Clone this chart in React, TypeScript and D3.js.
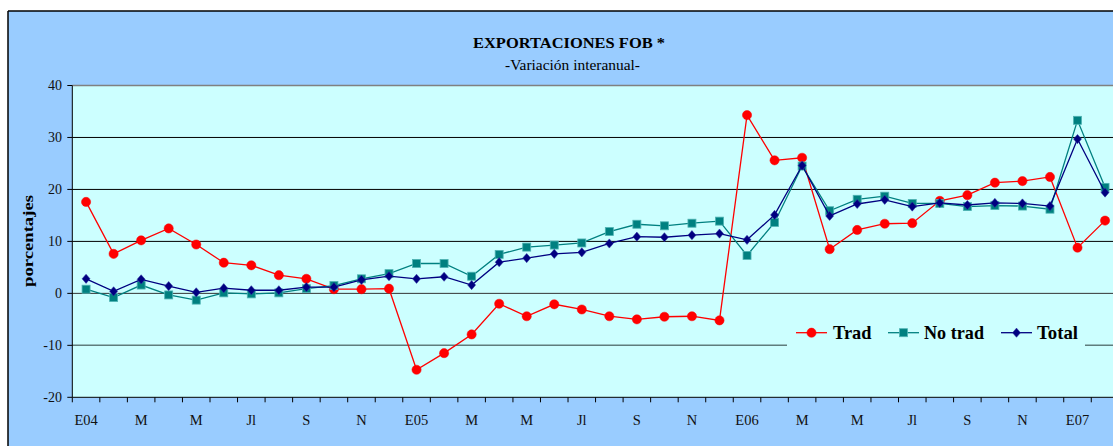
import React from "react";
import * as d3 from "d3";

const tickLabels = ["E04", "M", "M", "Jl", "S", "N", "E05", "M", "M", "Jl", "S", "N", "E06", "M", "M", "Jl", "S", "N", "E07"];

const trad = [17.6, 7.6, 10.2, 12.5, 9.4, 5.9, 5.4, 3.5, 2.8, 0.8, 0.8, 0.9,
  -14.7, -11.5, -7.9, -2.0, -4.4, -2.1, -3.1, -4.4, -5.0, -4.5, -4.4, -5.2,
  34.3, 25.6, 26.1, 8.5, 12.2, 13.4, 13.5, 17.8, 18.9, 21.3, 21.6, 22.4,
  8.8, 14.0];

const noTrad = [0.8, -0.8, 1.6, -0.3, -1.3, 0.1, -0.1, 0.1, 0.9, 1.5, 2.8, 3.8,
  5.75, 5.75, 3.3, 7.5, 8.9, 9.3, 9.7, 11.9, 13.3, 13.0, 13.5, 13.9,
  7.3, 13.65, 24.5, 15.9, 18.1, 18.7, 17.3, 17.3, 16.7, 16.9, 16.8, 16.2,
  33.3, 20.4];

const total = [2.8, 0.4, 2.7, 1.4, 0.2, 1.0, 0.6, 0.6, 1.2, 1.2, 2.6, 3.3,
  2.8, 3.2, 1.6, 6.0, 6.8, 7.6, 7.9, 9.6, 10.9, 10.8, 11.2, 11.5,
  10.3, 15.1, 24.6, 14.9, 17.2, 18.0, 16.7, 17.4, 17.0, 17.4, 17.3, 16.8,
  29.7, 19.4];

const yTicks = [-20, -10, 0, 10, 20, 30, 40];

const RED = "#FF0000";
const TEAL = "#008080";
const NAVY = "#000080";
const FONT = "'Liberation Serif', 'Times New Roman', serif";

export default function App() {
  const W = 1113, H = 446;
  const left = 72.3, step = 27.54;
  const top = 85.5, bottom = 397.3;
  const idx = d3.range(trad.length);
  const x = d3.scaleBand<number>().domain(idx).range([left, left + step * idx.length]).paddingInner(0).paddingOuter(0);
  const cx = (i: number) => (x(i) as number) + x.bandwidth() / 2;
  const y = d3.scaleLinear().domain([-20, 40]).range([bottom, top]);
  const line = d3.line<number>().x((_, i) => cx(i)).y((d) => y(d));

  const gridColor = (v: number) => (v === 0 ? "#333333" : v === -10 ? "#5f7d7d" : "#000000");

  const circle = (px: number, py: number, k: string) => (
    <circle key={k} cx={px} cy={py} r={4.6} fill={RED} stroke={RED} strokeWidth={0.5} />
  );
  const square = (px: number, py: number, k: string) => (
    <rect key={k} x={px - 4} y={py - 4} width={8} height={8} fill={TEAL} stroke="#4fb3b3" strokeWidth={0.8} />
  );
  const diamond = (px: number, py: number, k: string) => (
    <path key={k} d={`M${px},${py - 4.6}L${px + 4},${py}L${px},${py + 4.6}L${px - 4},${py}Z`} fill={NAVY} stroke="#3030a0" strokeWidth={0.5} />
  );

  return (
    <div style={{ position: "fixed", left: 0, top: 0, width: W, height: H, overflow: "hidden", background: "#fff" }}>
      <svg width={W} height={H} style={{ display: "block" }} fontFamily={FONT}>
        <rect x={8} y={11} width={W} height={H} fill="#99CCFF" />
        <line x1={8} y1={11} x2={W} y2={11} stroke="#000" strokeWidth={1.5} />
        <line x1={8} y1={11} x2={8} y2={H} stroke="#000" strokeWidth={1.5} />

        <text x={473} y={47.5} fontSize={15} fontWeight="bold" textLength={192} lengthAdjust="spacingAndGlyphs">EXPORTACIONES FOB *</text>
        <text x={505} y={70} fontSize={14.5} textLength={135} lengthAdjust="spacingAndGlyphs">-Variación interanual-</text>

        <rect x={left} y={top} width={W} height={bottom - top} fill="#CCFFFF" />
        {yTicks.map((v) =>
          v === 40 ? (
            <line key={v} x1={left} x2={W} y1={y(v)} y2={y(v)} stroke="#808080" strokeWidth={1.5} />
          ) : v === -20 ? null : (
            <line key={v} x1={left} x2={W} y1={y(v)} y2={y(v)} stroke={gridColor(v)} strokeWidth={v === -10 ? 1.5 : 1} />
          )
        )}

        {/* axes */}
        <line x1={left} x2={left} y1={top} y2={bottom} stroke="#000" strokeWidth={1} />
        <line x1={left} x2={W} y1={bottom} y2={bottom} stroke="#000" strokeWidth={1} />
        {yTicks.map((v) => (
          <g key={"yt" + v}>
            <line x1={left - 5} x2={left} y1={y(v)} y2={y(v)} stroke="#000" />
            <text x={62} y={y(v) + 4.8} fontSize={14} textAnchor="end" fill="#111">{v}</text>
          </g>
        ))}
        {d3.range(idx.length + 1).map((i) => (
          <line key={"xt" + i} x1={left + i * step} x2={left + i * step} y1={bottom} y2={bottom + 5} stroke="#000" />
        ))}
        {tickLabels.map((t, j) => (
          <text key={"xl" + j} x={cx(j * 2)} y={425} fontSize={14.5} textAnchor="middle" fill="#111">{t}</text>
        ))}

        <text transform="translate(32.5,241) rotate(-90)" fontSize={14.5} fontWeight="bold" textAnchor="middle" textLength={92} lengthAdjust="spacingAndGlyphs">porcentajes</text>

        {/* series */}
        <path d={line(trad) || ""} fill="none" stroke={RED} strokeWidth={1.3} />
        {trad.map((v, i) => circle(cx(i), y(v), "r" + i))}
        <path d={line(noTrad) || ""} fill="none" stroke={TEAL} strokeWidth={1.3} />
        {noTrad.map((v, i) => square(cx(i), y(v), "t" + i))}
        <path d={line(total) || ""} fill="none" stroke={NAVY} strokeWidth={1.3} />
        {total.map((v, i) => diamond(cx(i), y(v), "n" + i))}

        {/* legend */}
        <rect x={787} y={319} width={298} height={29} fill="#CCFFFF" />
        <line x1={796} x2={827} y1={332.7} y2={332.7} stroke={RED} strokeWidth={1.3} />
        {circle(811.5, 332.7, "lr")}
        <text x={833} y={339.3} fontSize={19} fontWeight="bold" textLength={38.5} lengthAdjust="spacingAndGlyphs">Trad</text>
        <line x1={888} x2={919} y1={332.7} y2={332.7} stroke={TEAL} strokeWidth={1.3} />
        {square(903.5, 332.7, "lt")}
        <text x={924} y={339.3} fontSize={19} fontWeight="bold" textLength={60} lengthAdjust="spacingAndGlyphs">No trad</text>
        <line x1={1001} x2={1032} y1={332.7} y2={332.7} stroke={NAVY} strokeWidth={1.3} />
        {diamond(1016.5, 332.7, "ln")}
        <text x={1037} y={339.3} fontSize={19} fontWeight="bold" textLength={41} lengthAdjust="spacingAndGlyphs">Total</text>
      </svg>
    </div>
  );
}
